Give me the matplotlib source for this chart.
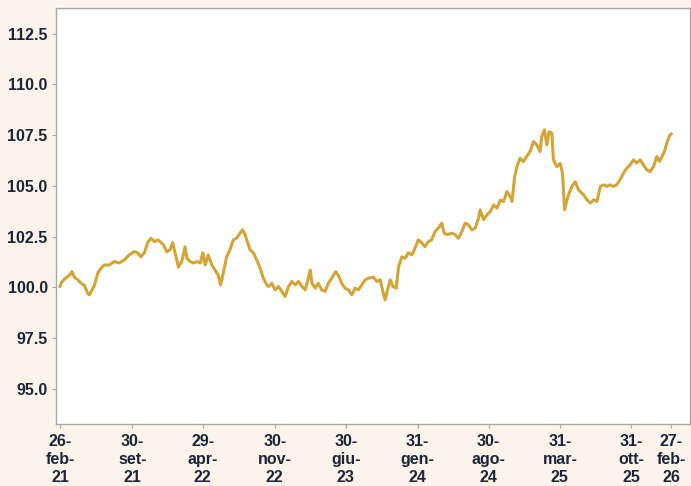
import pandas as pd
import matplotlib
matplotlib.use("Agg")
import matplotlib.pyplot as plt

plt.rcParams["font.family"] = ["Liberation Sans", "DejaVu Sans"]

# valori (data, livello)
dates = [
    "2021-02-26", "2021-03-01", "2021-03-11", "2021-03-26", "2021-04-03", "2021-04-10",
    "2021-04-20", "2021-04-30", "2021-05-10", "2021-05-20", "2021-05-25", "2021-06-02",
    "2021-06-09", "2021-06-19", "2021-06-29", "2021-07-08", "2021-07-23", "2021-08-07",
    "2021-08-22", "2021-09-06", "2021-09-21", "2021-10-06", "2021-10-16", "2021-10-26",
    "2021-11-05", "2021-11-15", "2021-11-25", "2021-12-05", "2021-12-15", "2021-12-22",
    "2022-01-01", "2022-01-11", "2022-01-21", "2022-01-29", "2022-02-05", "2022-02-15",
    "2022-02-25", "2022-03-07", "2022-03-12", "2022-03-22", "2022-04-01", "2022-04-11",
    "2022-04-21", "2022-04-29", "2022-05-06", "2022-05-15", "2022-05-26", "2022-06-04",
    "2022-06-14", "2022-06-21", "2022-06-29", "2022-07-09", "2022-07-19", "2022-07-29",
    "2022-08-08", "2022-08-18", "2022-08-26", "2022-09-02", "2022-09-09", "2022-09-17",
    "2022-09-27", "2022-10-07", "2022-10-17", "2022-10-27", "2022-11-06", "2022-11-11",
    "2022-11-21", "2022-12-01", "2022-12-11", "2022-12-21", "2022-12-31", "2023-01-10",
    "2023-01-20", "2023-01-30", "2023-02-09", "2023-02-19", "2023-03-01", "2023-03-09",
    "2023-03-16", "2023-03-21", "2023-03-31", "2023-04-09", "2023-04-19", "2023-04-29",
    "2023-05-09", "2023-05-19", "2023-05-31", "2023-06-10", "2023-06-18", "2023-06-28",
    "2023-07-08", "2023-07-18", "2023-07-28", "2023-08-07", "2023-08-17", "2023-08-27",
    "2023-09-06", "2023-09-21", "2023-10-01", "2023-10-11", "2023-10-19", "2023-10-26",
    "2023-11-02", "2023-11-10", "2023-11-18", "2023-11-28", "2023-12-05", "2023-12-15",
    "2023-12-25", "2024-01-03", "2024-01-14", "2024-01-23", "2024-02-02", "2024-02-12",
    "2024-02-22", "2024-03-03", "2024-03-13", "2024-03-23", "2024-04-02", "2024-04-12",
    "2024-04-19", "2024-04-29", "2024-05-12", "2024-05-22", "2024-06-01", "2024-06-11",
    "2024-06-21", "2024-07-01", "2024-07-11", "2024-07-21", "2024-07-31", "2024-08-05",
    "2024-08-15", "2024-08-25", "2024-09-04", "2024-09-14", "2024-09-24", "2024-10-04",
    "2024-10-14", "2024-10-24", "2024-11-03", "2024-11-08", "2024-11-16", "2024-11-23",
    "2024-12-02", "2024-12-12", "2024-12-22", "2025-01-01", "2025-01-11", "2025-01-21",
    "2025-01-31", "2025-02-05", "2025-02-13", "2025-02-20", "2025-02-27", "2025-03-07",
    "2025-03-12", "2025-03-22", "2025-04-01", "2025-04-08", "2025-04-14", "2025-04-24",
    "2025-05-06", "2025-05-16", "2025-05-26", "2025-06-10", "2025-06-20", "2025-06-30",
    "2025-07-10", "2025-07-20", "2025-07-30", "2025-08-09", "2025-08-19", "2025-08-28",
    "2025-09-07", "2025-09-17", "2025-09-27", "2025-10-07", "2025-10-17", "2025-10-27",
    "2025-11-06", "2025-11-16", "2025-11-26", "2025-12-06", "2025-12-16", "2025-12-26",
    "2026-01-05", "2026-01-15", "2026-01-23", "2026-02-02", "2026-02-08", "2026-02-15",
    "2026-02-23", "2026-02-27",
]
values = [
    100.05, 100.2, 100.4, 100.6, 100.78, 100.5,
    100.37, 100.2, 100.1, 99.7, 99.63, 99.88,
    100.1, 100.7, 100.95, 101.1, 101.1, 101.27,
    101.2, 101.35, 101.6, 101.76, 101.7, 101.5,
    101.7, 102.2, 102.42, 102.25, 102.34, 102.25,
    102.1, 101.76, 101.85, 102.2, 101.7, 101.0,
    101.27, 102.0, 101.44, 101.27, 101.2, 101.27,
    101.2, 101.7, 101.1, 101.6, 101.1, 100.86,
    100.6, 100.12, 100.7, 101.5, 101.85, 102.34,
    102.42, 102.67, 102.83, 102.6, 102.25, 101.85,
    101.7, 101.35, 100.95, 100.45, 100.12, 100.04,
    100.2, 99.88, 100.04, 99.8, 99.55, 100.04,
    100.29, 100.12, 100.29, 100.04, 99.88, 100.37,
    100.86, 100.2, 99.96, 100.2, 99.88, 99.8,
    100.2, 100.45, 100.78, 100.53, 100.2, 99.96,
    99.88, 99.63, 99.96, 99.88, 100.12, 100.37,
    100.45, 100.5, 100.29, 100.37, 99.8, 99.38,
    99.88, 100.37, 100.04, 99.96, 101.02, 101.5,
    101.44, 101.7, 101.6, 101.93, 102.34, 102.2,
    102.0, 102.25, 102.34, 102.75, 102.92, 103.16,
    102.67, 102.6, 102.67, 102.6, 102.42, 102.75,
    103.16, 103.08, 102.83, 102.92, 103.4, 103.82,
    103.33, 103.57, 103.73, 104.06, 103.9, 104.3,
    104.23, 104.72, 104.47, 104.23, 105.46, 105.95,
    106.36, 106.2, 106.44, 106.69, 107.18, 107.02,
    106.69, 107.43, 107.76, 107.02, 107.67, 107.6,
    106.28, 105.95, 106.1, 105.62, 103.82, 104.47,
    104.97, 105.2, 104.8, 104.56, 104.31, 104.15,
    104.31, 104.23, 104.97, 105.05, 104.97, 105.05,
    104.97, 105.05, 105.3, 105.62, 105.87, 106.03,
    106.28, 106.12, 106.28, 106.03, 105.79, 105.7,
    105.95, 106.44, 106.2, 106.53, 106.77, 107.18,
    107.5, 107.55,
]

tick_dates = ["2021-02-26", "2021-09-30", "2022-04-29", "2022-11-30", "2023-06-30",
              "2024-01-31", "2024-08-30", "2025-03-31", "2025-10-31", "2026-02-27"]
tick_labels = ["26-\nfeb-\n21", "30-\nset-\n21", "29-\napr-\n22", "30-\nnov-\n22",
               "30-\ngiu-\n23", "31-\ngen-\n24", "30-\nago-\n24", "31-\nmar-\n25",
               "31-\nott-\n25", "27-\nfeb-\n26"]
y_ticks = [95.0, 97.5, 100.0, 102.5, 105.0, 107.5, 110.0, 112.5]

BG = "#FDF3EA"
LINE = "#D3A437"
TEXT = "#1A2638"

df = pd.DataFrame({"date": pd.to_datetime(dates), "value": values})

fig = plt.figure(figsize=(6.91, 4.86), dpi=100, facecolor=BG)
ax = fig.add_axes([0.081, 0.128, 0.918, 0.856])
ax.set_facecolor("white")

ax.plot(df["date"], df["value"], color=LINE, lw=2.2, solid_joinstyle="round")

ax.set_xlim(pd.Timestamp("2021-02-14"), pd.Timestamp("2026-04-25"))
ax.set_ylim(93.28, 113.77)

ax.set_yticks(y_ticks)
ax.set_yticklabels([f"{v:.1f}" for v in y_ticks])
ax.set_xticks(pd.to_datetime(tick_dates))
ax.set_xticklabels(tick_labels, linespacing=1.28)

for sp in ax.spines.values():
    sp.set_color("#A8A8A8")
    sp.set_linewidth(1.0)

ax.tick_params(axis="both", colors="#A8A8A8", length=3, width=0.8,
               labelcolor=TEXT, labelsize=11.5)
ax.tick_params(axis="y", pad=3)
ax.tick_params(axis="x", pad=4)
for lab in ax.get_xticklabels() + ax.get_yticklabels():
    lab.set_fontweight("bold")

fig.savefig("out.png", dpi=100, facecolor=BG)
